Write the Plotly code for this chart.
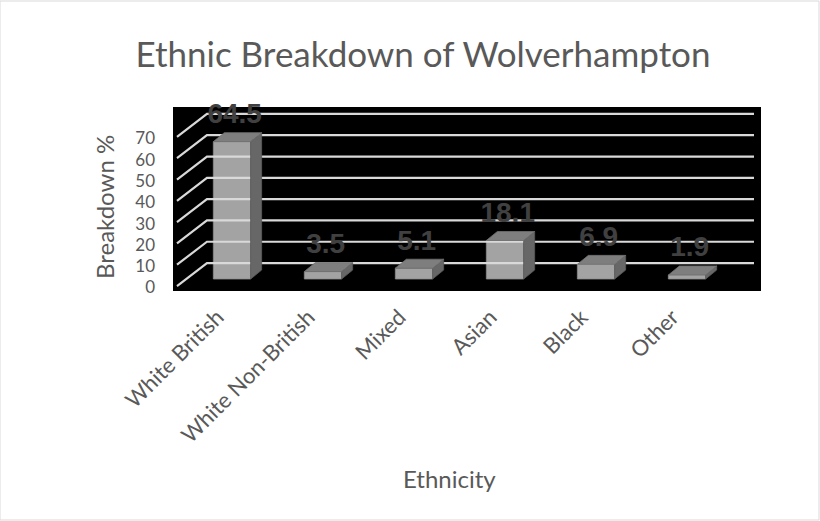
import plotly.graph_objects as go

# ---- data ----
categories = ["White British", "White Non-British", "Mixed", "Asian", "Black", "Other"]
values = [64.5, 3.5, 5.1, 18.1, 6.9, 1.9]
y_ticks = [0, 10, 20, 30, 40, 50, 60, 70]

# ---- style / geometry constants (pseudo-3D look) ----
BAR_W = 0.41          # bar width in category units
BAR_DX = 0.121        # bar depth offset (x units)
BAR_DY = 4.2          # bar depth offset (y units)
WALL_BACK_X = -0.275  # back edge of side wall
WALL_FRONT_X = -0.604 # front edge of side wall
WALL_RIGHT_X = 5.736  # right end of back wall gridlines
BACK_DY = 7.5         # back wall offset (y units)
FRONT_DY = -3.3       # front edge offset (y units)
LABEL_DY = 12.0
TICK_DY = -4.0

FRONT_C = "#a3a3a3"
SIDE_C = "#676767"
TOP_C = "#7e7e7e"
GRID_C = "#d9d9d9"
TEXT_C = "#595959"
FONT = "Lato"

idx = list(range(len(categories)))

fig = go.Figure()

# gridlines (side wall diagonals + back wall horizontals)
gx, gy = [], []
for t in y_ticks:
    gx += [WALL_FRONT_X, WALL_BACK_X, WALL_RIGHT_X, None]
    gy += [t + FRONT_DY, t + BACK_DY, t + BACK_DY, None]
fig.add_trace(go.Scatter(x=gx, y=gy, mode="lines", line=dict(color=GRID_C, width=2.2),
                         hoverinfo="skip", showlegend=False))

# side and top faces
sx, sy = [], []
tx, ty = [], []
for i, v in zip(idx, values):
    r = i + BAR_W / 2
    l = i - BAR_W / 2
    sx += [r, r + BAR_DX, r + BAR_DX, r, r, None]
    sy += [0, BAR_DY, v + BAR_DY, v, 0, None]
    tx += [l, r, r + BAR_DX, l + BAR_DX, l, None]
    ty += [v, v, v + BAR_DY, v + BAR_DY, v, None]
fig.add_trace(go.Scatter(x=sx, y=sy, mode="lines", fill="toself", fillcolor=SIDE_C,
                         line=dict(color="#5a5a5a", width=0.8), hoverinfo="skip", showlegend=False))
fig.add_trace(go.Scatter(x=tx, y=ty, mode="lines", fill="toself", fillcolor=TOP_C,
                         line=dict(color="#707070", width=0.8), hoverinfo="skip", showlegend=False))

# front faces
fig.add_trace(go.Bar(x=idx, y=values, width=BAR_W,
                     marker=dict(color=FRONT_C, line=dict(color="#8c8c8c", width=0.8)),
                     showlegend=False, hoverinfo="y"))

# data labels
fig.add_trace(go.Scatter(x=[i + 0.03 for i in idx], y=[v + LABEL_DY for v in values], mode="text",
                         text=[f"{v:.1f}" for v in values],
                         textfont=dict(family="Liberation Sans", size=28, color="#404040", weight="bold"),
                         cliponaxis=False, hoverinfo="skip", showlegend=False))

fig.update_layout(
    width=820, height=521,
    margin=dict(l=173, r=59, t=107, b=230),
    paper_bgcolor="white", plot_bgcolor="black",
    barmode="overlay",
    title=dict(text="Ethnic Breakdown of Wolverhampton", x=423 / 820, xanchor="center",
               y=1 - 55 / 521, yanchor="middle", font=dict(family=FONT, size=35, color=TEXT_C)),
    xaxis=dict(range=[-0.648, 5.813], tickvals=[i - 0.16 for i in idx], ticktext=categories,
               tickangle=-45, showgrid=False, zeroline=False, showline=False, ticks="",
               ticklabelstandoff=8, tickfont=dict(family=FONT, size=22, color=TEXT_C)),
    yaxis=dict(range=[-5.63, 80.75], tickvals=[t + TICK_DY for t in y_ticks], ticktext=[str(t) for t in y_ticks],
               showgrid=False, zeroline=False, showline=False, ticks="",
               ticklabelstandoff=17, tickfont=dict(family=FONT, size=17, color=TEXT_C)),
    annotations=[
        dict(text="Breakdown %", xref="paper", yref="paper", x=(104 - 173) / 588, y=(291 - 207) / 184,
             textangle=-90, showarrow=False, xanchor="center", yanchor="middle",
             font=dict(family=FONT, size=24, color=TEXT_C)),
        dict(text="Ethnicity", xref="paper", yref="paper", x=(449.5 - 173) / 588, y=(291 - 478) / 184,
             showarrow=False, xanchor="center", yanchor="middle",
             font=dict(family=FONT, size=24, color=TEXT_C)),
    ],
    shapes=[dict(type="rect", xref="paper", yref="paper", x0=-173 / 588, x1=(819 - 173) / 588,
                 y0=-(230 - 1) / 184, y1=(184 + 107 - 1) / 184, line=dict(color=GRID_C, width=1),
                 fillcolor="rgba(0,0,0,0)", layer="below")],
)

fig.write_html("out.html")
